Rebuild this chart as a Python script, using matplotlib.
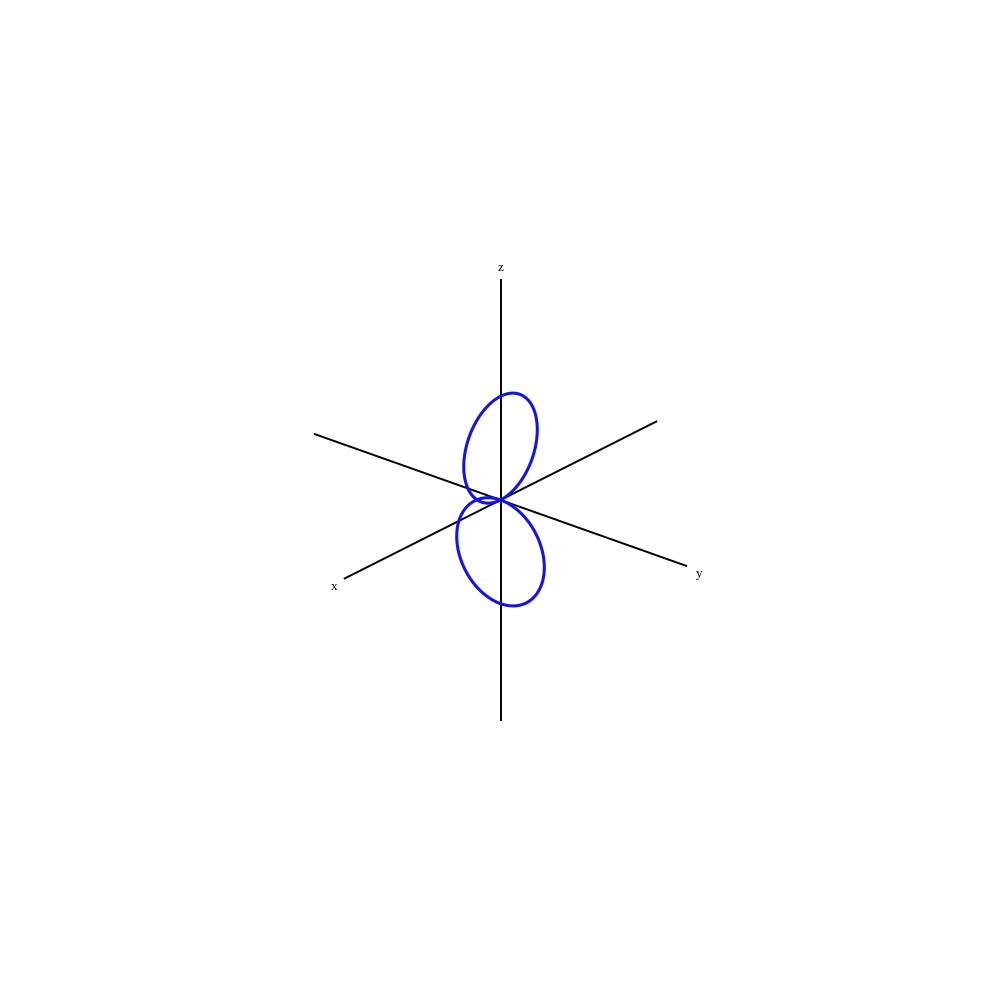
import numpy as np
import matplotlib
matplotlib.use("Agg")
import matplotlib.pyplot as plt

# axes drawn from -axis_len to +axis_len, labels a bit past the + end
axis_names = ["x", "y", "z"]
axis_len = 1.0
label_at = 1.07
label_drop = 0.016  # labels sit slightly low in the original

# two p-orbital lobes, r = d*cos(theta): upper one in the xz plane, lower one in the yz plane
lobe_planes = ["xz", "yz"]
lobe_signs = [1, -1]
lobe_diameter = 0.472

elev, azim = 25, 40
curve_color = "#1414e6"

plt.rcParams["font.family"] = ["Liberation Serif", "DejaVu Serif"]

fig = plt.figure(figsize=(10, 10), dpi=100)
ax = fig.add_axes([-0.013, -0.0135, 1, 1], projection="3d", computed_zorder=False)
ax.set_proj_type("ortho")
ax.view_init(elev=elev, azim=azim)

# coordinate axes
for i, name in enumerate(axis_names):
    p = np.zeros((3, 2))
    p[i] = [-axis_len, axis_len]
    ax.plot(p[0], p[1], p[2], color="black", lw=1.4, zorder=1)
    q = np.zeros(3)
    q[i] = label_at * axis_len
    q[2] -= label_drop
    ax.text(q[0], q[1], q[2], name, fontsize=9.5, ha="center", va="center", zorder=3)

# lobes
theta = np.linspace(-np.pi / 2, np.pi / 2, 400)
r = lobe_diameter * np.cos(theta)
for plane, sign in zip(lobe_planes, lobe_signs):
    xs = np.zeros_like(theta)
    ys = np.zeros_like(theta)
    zs = sign * r * np.cos(theta)
    if plane == "xz":
        xs = r * np.sin(theta)
    else:
        ys = r * np.sin(theta)
    ax.plot(xs, ys, zs, color=curve_color, lw=2.2, zorder=2)

ax.set_xlim(-axis_len, axis_len)
ax.set_ylim(-axis_len, axis_len)
ax.set_zlim(-axis_len, axis_len)
ax.set_box_aspect((1, 1, 1), zoom=0.815)
ax.set_axis_off()

fig.savefig("out.png", dpi=100)
